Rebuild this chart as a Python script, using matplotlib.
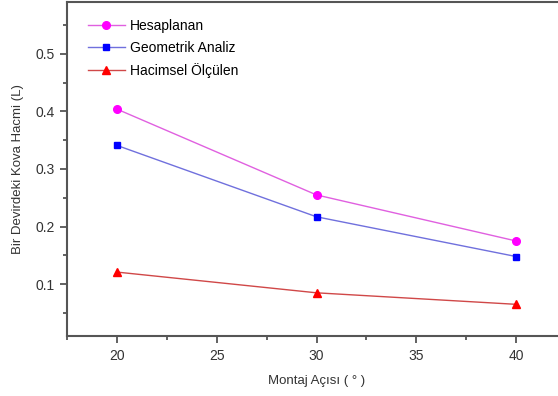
import matplotlib
matplotlib.use("Agg")
import matplotlib.pyplot as plt
from matplotlib.ticker import MultipleLocator

plt.rcParams['font.family'] = ['Liberation Sans', 'DejaVu Sans']

# okunan degerler
aci = [20, 30, 40]
hesaplanan = [0.404, 0.255, 0.175]
geometrik = [0.341, 0.217, 0.148]
hacimsel = [0.121, 0.085, 0.065]

fig = plt.figure(figsize=(5.58, 3.96), dpi=100)
ax = fig.add_axes([67 / 558, 1 - 336 / 396, (566 - 67) / 558, 334 / 396])

ax.plot(aci, hesaplanan, color='#e060e0', lw=1.0, marker='o', ms=5.5,
        mfc='#ff00ff', mec='#ff00ff', label='Hesaplanan')
ax.plot(aci, geometrik, color='#7070dd', lw=1.0, marker='s', ms=5,
        mfc='#0000ff', mec='#0000ff', label='Geometrik Analiz')
ax.plot(aci, hacimsel, color='#d04848', lw=1.0, marker='^', ms=6,
        mfc='#ff0000', mec='#ff0000', label='Hacimsel Ölçülen')

ax.set_xlim(17.5, 42.5)
ax.set_ylim(0.01, 0.59)
ax.xaxis.set_major_locator(MultipleLocator(5))
ax.xaxis.set_minor_locator(MultipleLocator(2.5))
ax.yaxis.set_major_locator(MultipleLocator(0.1))
ax.yaxis.set_minor_locator(MultipleLocator(0.05))

for s in ax.spines.values():
    s.set_color('#555555')
    s.set_linewidth(1.5)
ax.tick_params(which='both', direction='out', color='#555555', width=1.3,
               labelsize=10, labelcolor='#333333')
ax.tick_params(which='major', length=5, pad=4)
ax.tick_params(which='minor', length=3)

ax.set_xlabel('Montaj Açısı ( ° )', fontsize=9.5, color='#333333', labelpad=9)
ax.set_ylabel('Bir Devirdeki Kova Hacmi (L)', fontsize=9.5, color='#333333', labelpad=8)

ax.legend(loc='upper left', frameon=False, fontsize=10, handlelength=2.7,
          handletextpad=0.35, borderaxespad=0.0, labelspacing=0.55,
          bbox_to_anchor=(0.03, 0.965))

fig.savefig('out.png', dpi=100)
